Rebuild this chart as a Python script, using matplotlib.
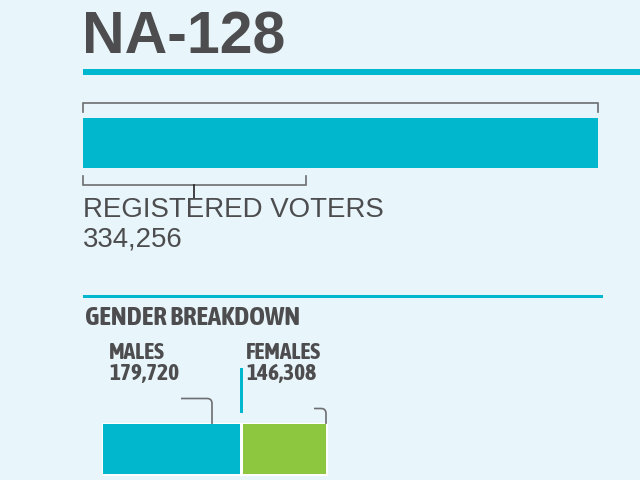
import matplotlib.pyplot as plt
from matplotlib.patches import Rectangle
from matplotlib.path import Path
from matplotlib.patches import PathPatch

title = 'NA-128'
registered_label = 'REGISTERED VOTERS'
registered_voters = 334256
bracket_voters = 144700  # length of the lower bracket
section_title = 'GENDER BREAKDOWN'
genders = ['MALES', 'FEMALES']
gender_counts = [179720, 146308]
# the gender bars are not to scale with the counts, so these are read off the picture
gender_bar_lengths = [137, 83]

bg = '#E8F5FA'
teal = '#00B7CE'
green = '#8DC63F'
dark = '#4D4D4F'
grey = '#6D6E71'
narrow = ['Asap Condensed', 'Roboto Condensed', 'Liberation Sans']

plt.rcParams['font.family'] = ['Liberation Sans', 'DejaVu Sans']

fig = plt.figure(figsize=(6.4, 4.8), dpi=100, facecolor=bg)
ax = fig.add_axes([0, 0, 1, 1])
ax.set_xlim(0, 640)
ax.set_ylim(480, 0)
ax.axis('off')

# Header
ax.text(82, 53, title, fontsize=42.5, fontweight='bold', color=dark, va='baseline', ha='left')
ax.add_patch(Rectangle((83, 69), 557, 6, color=teal, lw=0))

# Registered voters bar
scale = 515 / registered_voters
ax.barh(143, registered_voters * scale, height=50, left=83, color=teal)

# Brackets
ax.plot([83, 83, 598, 598], [112, 103, 103, 112], color=grey, lw=1.2, solid_joinstyle='miter')
bracket_end = 83 + bracket_voters * scale
ax.plot([83, 83, bracket_end, bracket_end], [176, 185, 185, 176], color=grey, lw=1.2, solid_joinstyle='miter')
ax.plot([193.5, 193.5], [185, 198], color='#222222', lw=1.2)

ax.text(83, 217, registered_label, fontsize=19.9, color=dark, va='baseline', ha='left')
ax.text(83, 246, f'{registered_voters:,}', fontsize=19.9, color=dark, va='baseline', ha='left')

# Gender section
ax.add_patch(Rectangle((83, 295), 520, 3, color=teal, lw=0))
ax.text(85, 325, section_title, fontsize=19.3, fontweight='bold', color=dark, va='baseline', ha='left',
        family=narrow)

ax.add_patch(Rectangle((101.5, 422.5), 226, 53.5, color='white', lw=0))
bar_left = 103
for length, colour in zip(gender_bar_lengths, [teal, green]):
    ax.barh(449, length, height=50, left=bar_left, color=colour)
    bar_left += length + 3

for name, count, x in zip(genders, gender_counts, [109, 246]):
    ax.text(x, 359, name, fontsize=16.8, fontweight='bold', color=dark, va='baseline', ha='left', family=narrow)
    ax.text(x, 380, f'{count:,}', fontsize=16.8, fontweight='bold', color=dark, va='baseline', ha='left', family=narrow)

ax.add_patch(Rectangle((240, 368), 3, 45, color=teal, lw=0))

# Rounded leader lines
for x0, x1, y0, y1 in [(181, 212, 398.5, 424), (314, 326, 408.5, 424)]:
    verts = [(x0, y0), (x1 - 5, y0), (x1, y0), (x1, y0 + 5), (x1, y1)]
    codes = [Path.MOVETO, Path.LINETO, Path.CURVE3, Path.CURVE3, Path.LINETO]
    ax.add_patch(PathPatch(Path(verts, codes), fill=False, edgecolor=grey, lw=1.2))

fig.savefig('out.png', dpi=100, facecolor=bg)
